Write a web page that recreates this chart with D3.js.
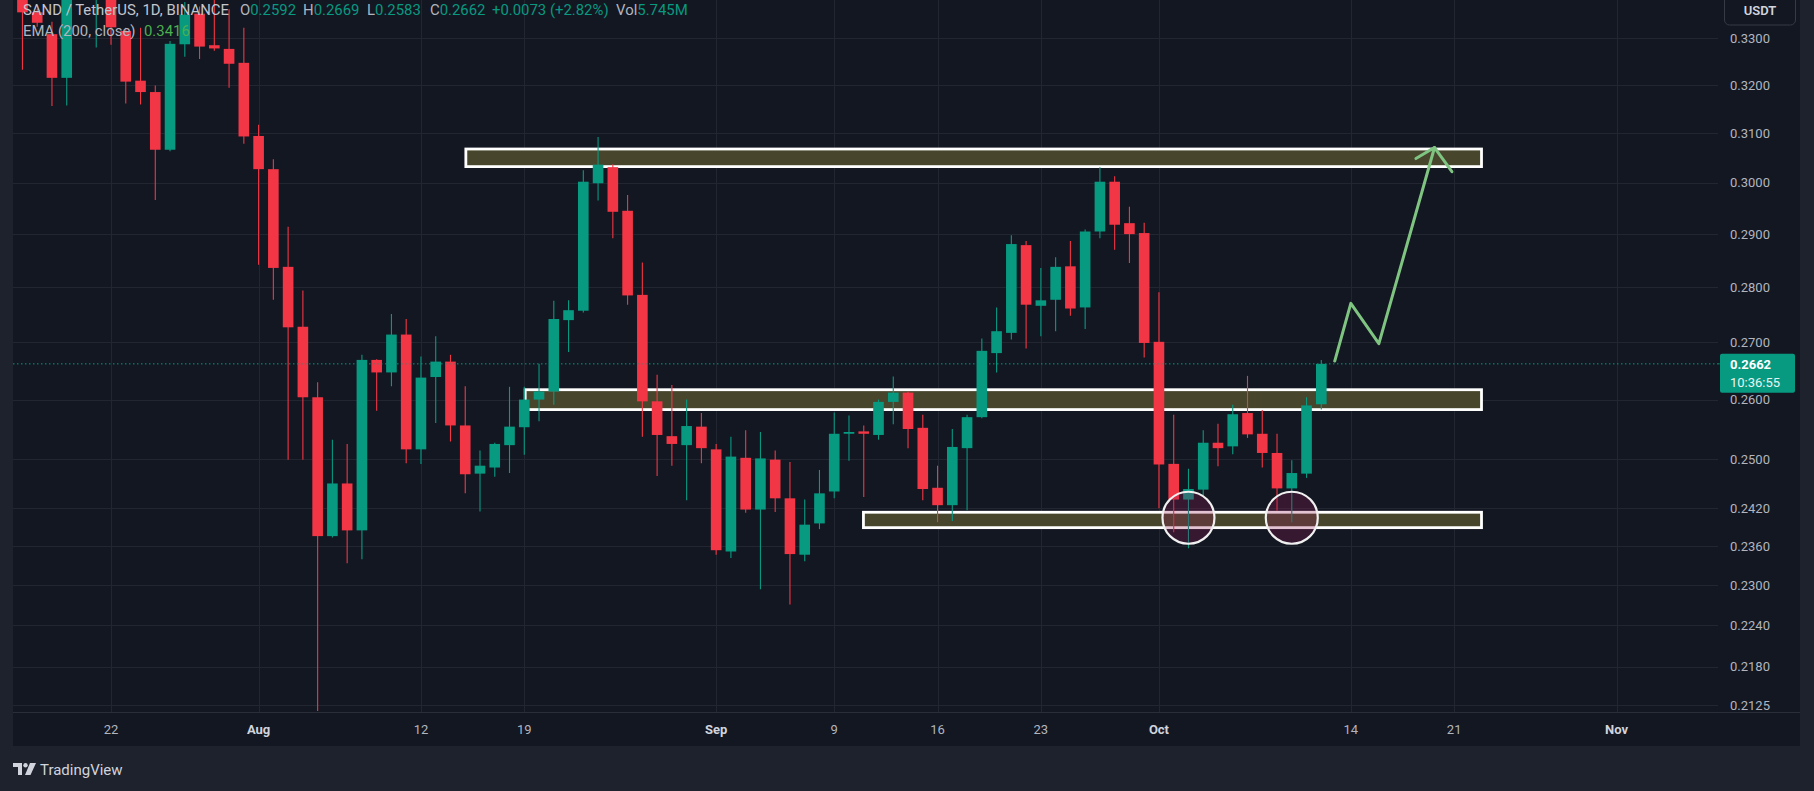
<!DOCTYPE html>
<html><head><meta charset="utf-8">
<script src="https://cdn.jsdelivr.net/npm/d3@7"></script>
<style>
html,body{margin:0;padding:0;background:#1e222d;overflow:hidden}
svg{display:block}
text{font-family:Roboto,"Noto Sans",sans-serif}
</style></head><body>
<svg id="c" width="1814" height="791"></svg>
<script>
// ---------- DATA ----------
const dates = ["2024-07-16","2024-07-17","2024-07-18","2024-07-19","2024-07-20","2024-07-21","2024-07-22","2024-07-23","2024-07-24","2024-07-25","2024-07-26","2024-07-27","2024-07-28","2024-07-29","2024-07-30","2024-07-31",
"2024-08-01","2024-08-02","2024-08-03","2024-08-04","2024-08-05","2024-08-06","2024-08-07","2024-08-08","2024-08-09","2024-08-10","2024-08-11","2024-08-12","2024-08-13","2024-08-14","2024-08-15","2024-08-16","2024-08-17","2024-08-18","2024-08-19","2024-08-20","2024-08-21","2024-08-22","2024-08-23","2024-08-24","2024-08-25","2024-08-26","2024-08-27","2024-08-28","2024-08-29","2024-08-30","2024-08-31",
"2024-09-01","2024-09-02","2024-09-03","2024-09-04","2024-09-05","2024-09-06","2024-09-07","2024-09-08","2024-09-09","2024-09-10","2024-09-11","2024-09-12","2024-09-13","2024-09-14","2024-09-15","2024-09-16","2024-09-17","2024-09-18","2024-09-19","2024-09-20","2024-09-21","2024-09-22","2024-09-23","2024-09-24","2024-09-25","2024-09-26","2024-09-27","2024-09-28","2024-09-29","2024-09-30",
"2024-10-01","2024-10-02","2024-10-03","2024-10-04","2024-10-05","2024-10-06","2024-10-07","2024-10-08","2024-10-09","2024-10-10","2024-10-11","2024-10-12"];
const open  = [.3450,.3357,.3309,.3215,.3420,.3470,.3490,.3316,.3209,.3185,.3066,.3287,.3354,.3285,.3277,.3247,
.3094,.3027,.2838,.2728,.2604,.2376,.2460,.2385,.2669,.2647,.2714,.2516,.2639,.2666,.2556,.2476,.2486,.2523,.2553,.2600,.2614,.2740,.2757,.2999,.3031,.2945,.2786,.2597,.2538,.2523,.2554,
.2516,.2352,.2502,.2418,.2499,.2436,.2347,.2396,.2447,.2542,.2546,.2540,.2596,.2612,.2552,.2453,.2425,.2518,.2570,.2681,.2717,.2879,.2766,.2777,.2839,.2763,.2905,.3002,.2921,.2902,
.2701,.2492,.2434,.2450,.2527,.2521,.2577,.2542,.2510,.2452,.2476,.2592];
const high  = [.3500,.3365,.3336,.3450,.3520,.3510,.3530,.3323,.3323,.3199,.3294,.3380,.3370,.3400,.3364,.3323,
.3117,.3047,.2914,.2794,.2630,.2532,.2525,.2678,.2670,.2751,.2742,.2675,.2711,.2678,.2623,.2514,.2527,.2622,.2622,.2662,.2775,.2776,.3025,.3092,.3037,.2976,.2846,.2643,.2625,.2600,.2577,
.2525,.2537,.2548,.2545,.2514,.2495,.2434,.2482,.2578,.2573,.2556,.2600,.2640,.2614,.2574,.2489,.2550,.2574,.2707,.2763,.2898,.2887,.2836,.2856,.2887,.2909,.3031,.3013,.2953,.2922,
.2791,.2574,.2484,.2548,.2559,.2591,.2641,.2582,.2542,.2498,.2604,.2669];
const low   = [.3232,.3325,.3156,.3157,.3395,.3280,.3286,.3161,.3159,.2966,.3063,.3260,.3255,.3273,.3194,.3078,
.2842,.2777,.2499,.2499,.2117,.2374,.2334,.2340,.2581,.2623,.2493,.2492,.2560,.2529,.2444,.2415,.2471,.2477,.2507,.2563,.2591,.2683,.2754,.2965,.2892,.2768,.2537,.2472,.2489,.2433,.2493,
.2347,.2342,.2413,.2294,.2414,.2271,.2337,.2387,.2436,.2497,.2438,.2532,.2558,.2518,.2433,.2398,.2400,.2417,.2568,.2647,.2705,.2689,.2711,.2720,.2748,.2724,.2892,.2870,.2845,.2673,
.2420,.2382,.2357,.2441,.2488,.2508,.2535,.2486,.2416,.2398,.2469,.2583];
const close = [.3357,.3334,.3215,.3420,.3470,.3490,.3324,.3207,.3185,.3066,.3288,.3352,.3282,.3278,.3245,.3093,
.3027,.2836,.2727,.2604,.2376,.2460,.2385,.2669,.2647,.2714,.2516,.2638,.2666,.2556,.2475,.2489,.2525,.2554,.2600,.2614,.2742,.2758,.3002,.3036,.2943,.2785,.2597,.2540,.2525,.2555,.2518,
.2354,.2504,.2418,.2501,.2436,.2348,.2394,.2444,.2542,.2545,.2542,.2596,.2612,.2550,.2451,.2425,.2520,.2570,.2685,.2720,.2881,.2768,.2776,.2838,.2761,.2905,.3002,.2918,.2900,.2699,
.2491,.2434,.2451,.2527,.2518,.2575,.2541,.2510,.2452,.2477,.2590,.2662];

const priceTicks = [0.33,0.32,0.31,0.30,0.29,0.28,0.27,0.26,0.25,0.242,0.236,0.23,0.224,0.218,0.2125];
const timeTicks  = ["2024-07-22","2024-08-01","2024-08-12","2024-08-19","2024-09-01","2024-09-09","2024-09-16","2024-09-23","2024-10-01","2024-10-14","2024-10-21","2024-11-01"];
const timeLabels = ["22","Aug","12","19","Sep","9","16","23","Oct","14","21","Nov"];
const monthLabels = ["Aug","Sep","Oct","Nov"];

// annotation zones: [startTime, endTime, upperPrice, lowerPrice]
const zoneStarts = ["2024-08-15T01:00Z","2024-08-19T01:30Z","2024-09-10T23:30Z"];
const zoneEnd    = "2024-10-22T20:30Z";
const zoneUpper  = [0.30675, 0.26170, 0.24137];
const zoneLower  = [0.30321, 0.25829, 0.23893];
// double bottom circles
const circleDates  = ["2024-10-03","2024-10-10"];
const circlePrices = [0.2405, 0.2405];
// projected path (time, price)
const arrowTimes  = ["2024-10-12T21:50Z","2024-10-14T00:00Z","2024-10-15T21:36Z","2024-10-19T16:05Z"];
const arrowPrices = [0.2667, 0.27705, 0.26977, 0.30705];
const headTimes   = ["2024-10-18T09:50Z","2024-10-19T16:05Z","2024-10-20T20:24Z"];
const headPrices  = [0.30482, 0.30705, 0.3022];

const lastPrice = 0.2662;
const header1 = [["SAND / TetherUS, 1D, BINANCE","#c3c6ce",23],["O","#b2b5be",240],["0.2592","#089981",null],["H","#b2b5be",303],["0.2669","#089981",null],["L","#b2b5be",367],["0.2583","#089981",null],["C","#b2b5be",430],["0.2662","#089981",null],["+0.0073 (+2.82%)","#089981",492],["Vol","#b2b5be",616],["5.745M","#089981",null]];

// ---------- LAYOUT ----------
const paneL=13, paneR=1718, paneB=712, axisR=1800, timeB=746;
const svg = d3.select("#c");
const x = d3.scaleUtc().domain([new Date("2024-07-22T00:00Z"), new Date("2024-11-01T00:00Z")]).range([111, 1616.5]);
const y = d3.scaleLog().domain([0.2125, 0.33]).range([705.3, 38.3]);
const dayW = x(new Date("2024-07-23T00:00Z")) - x(new Date("2024-07-22T00:00Z"));
const bodyW = dayW*0.72;
const UP="#089981", DN="#f23645";
const T = s => new Date(s.length===10 ? s+"T00:00Z" : s);

// backgrounds
svg.append("rect").attr("width",1814).attr("height",791).attr("fill","#1e222d");
svg.append("rect").attr("x",paneL).attr("y",0).attr("width",axisR-paneL).attr("height",timeB).attr("fill","#131722");
svg.append("line").attr("x1",paneL).attr("x2",axisR).attr("y1",paneB+0.5).attr("y2",paneB+0.5).attr("stroke","#2a2e39").attr("stroke-width",1);

const defs = svg.append("defs");
defs.append("clipPath").attr("id","pane").append("rect").attr("x",paneL).attr("y",0).attr("width",paneR-paneL).attr("height",paneB);

const pane = svg.append("g").attr("clip-path","url(#pane)");
// grid
pane.selectAll("line.h").data(priceTicks).join("line")
  .attr("x1",paneL).attr("x2",paneR).attr("y1",d=>Math.round(y(d))+0.5).attr("y2",d=>Math.round(y(d))+0.5)
  .attr("stroke","#222631").attr("stroke-width",1);
pane.selectAll("line.v").data(timeTicks).join("line")
  .attr("x1",d=>Math.round(x(T(d)))+0.5).attr("x2",d=>Math.round(x(T(d)))+0.5).attr("y1",0).attr("y2",paneB)
  .attr("stroke","#222631").attr("stroke-width",1);

// zones (behind candles)
const zg = pane.append("g");
zoneStarts.forEach((s,i)=>{
  const x0=x(T(s)), x1=x(T(zoneEnd)), y0=y(zoneUpper[i]), y1=y(zoneLower[i]);
  zg.append("rect").attr("x",x0).attr("y",y0).attr("width",x1-x0).attr("height",y1-y0)
    .attr("fill","#47462d").attr("stroke","#ffffff").attr("stroke-width",2.8);
});

// candles
const candles = dates.map((d,i)=>({t:T(d),o:open[i],h:high[i],l:low[i],c:close[i]}));
const cg = pane.append("g");
cg.selectAll("line").data(candles).join("line")
  .attr("x1",d=>x(d.t)).attr("x2",d=>x(d.t)).attr("y1",d=>y(d.h)).attr("y2",d=>y(d.l))
  .attr("stroke",d=>d.c>=d.o?UP:DN).attr("stroke-width",1.1);
cg.selectAll("rect").data(candles).join("rect")
  .attr("x",d=>x(d.t)-bodyW/2).attr("width",bodyW)
  .attr("y",d=>y(Math.max(d.o,d.c))).attr("height",d=>Math.max(1.2,Math.abs(y(d.o)-y(d.c))))
  .attr("fill",d=>d.c>=d.o?UP:DN);

// circles
circleDates.forEach((d,i)=>{
  pane.append("circle").attr("cx",x(T(d))).attr("cy",y(circlePrices[i])).attr("r",26)
    .attr("fill","rgba(150,30,90,0.27)").attr("stroke","#f0f0f0").attr("stroke-width",2.2);
});

// projected arrow
const line = d3.line().x(d=>x(T(d[0]))).y(d=>y(d[1]));
pane.append("path").attr("d",line(arrowTimes.map((t,i)=>[t,arrowPrices[i]])))
  .attr("fill","none").attr("stroke","#7fc481").attr("stroke-width",3).attr("stroke-linecap","round").attr("stroke-linejoin","round");
pane.append("path").attr("d",line(headTimes.map((t,i)=>[t,headPrices[i]])))
  .attr("fill","none").attr("stroke","#7fc481").attr("stroke-width",3).attr("stroke-linecap","round").attr("stroke-linejoin","round");

// last price dotted line
pane.append("line").attr("x1",paneL).attr("x2",paneR).attr("y1",y(lastPrice)).attr("y2",y(lastPrice))
  .attr("stroke",UP).attr("stroke-width",1).attr("stroke-dasharray","1.5 2.5");
svg.append("line").attr("x1",paneR).attr("x2",1722).attr("y1",y(lastPrice)).attr("y2",y(lastPrice))
  .attr("stroke",UP).attr("stroke-width",1).attr("stroke-dasharray","1.5 2.5");

// header legend
const h1 = svg.append("text").attr("x",23).attr("y",14.5).attr("font-size",14.9);
header1.forEach(([s,c,xx])=>{
  const ts=h1.append("tspan").text(s).attr("fill",c);
  if(xx!==null) ts.attr("x",xx);
});
const h2 = svg.append("text").attr("x",23).attr("y",35.5).attr("font-size",14.9);
h2.append("tspan").text("EMA (200, close)").attr("fill","#b2b5be");
h2.append("tspan").attr("x",144).text("0.3416").attr("fill","#4caf50");

// price axis labels
svg.selectAll("text.p").data(priceTicks).join("text")
  .attr("x",1730).attr("y",d=>y(d)+4.6).attr("font-size",13).attr("fill","#b2b5be")
  .text(d=>d3.format(".4f")(d));

// last price label
const ly = y(lastPrice);
svg.append("rect").attr("x",1720).attr("y",ly-10).attr("width",75).attr("height",39).attr("rx",2).attr("fill",UP);
svg.append("text").attr("x",1730).attr("y",ly+5).attr("font-size",13).attr("font-weight",700).attr("fill","#ffffff").text(d3.format(".4f")(lastPrice));
svg.append("text").attr("x",1730).attr("y",ly+23).attr("font-size",13).attr("fill","#e6f5f1").text("10:36:55");

// USDT button
svg.append("rect").attr("x",1724.5).attr("y",-6).attr("width",71).attr("height",31).attr("rx",5)
  .attr("fill","#131722").attr("stroke","#363a45");
svg.append("text").attr("x",1760).attr("y",15).attr("text-anchor","middle").attr("font-size",13).attr("font-weight",600).attr("fill","#d1d4dc").text("USDT");

// time axis labels
svg.selectAll("text.t").data(timeTicks).join("text")
  .attr("x",d=>x(T(d))).attr("y",734).attr("text-anchor","middle").attr("font-size",13)
  .attr("font-weight",(d,i)=>monthLabels.includes(timeLabels[i])?700:400)
  .attr("fill",(d,i)=>monthLabels.includes(timeLabels[i])?"#d1d4dc":"#b2b5be")
  .text((d,i)=>timeLabels[i]);

// TradingView logo
const lg = svg.append("g").attr("transform","translate(13,763)").attr("fill","#d1d4dc");
lg.append("path").attr("d","M0 0 H9 V12 H5 V4 H0 Z");
lg.append("circle").attr("cx",12.5).attr("cy",2.2).attr("r",2.2);
lg.append("path").attr("d","M17 0 H23 L17.5 12 H12 Z");
svg.append("text").attr("x",40).attr("y",775).attr("font-size",15).attr("fill","#d1d4dc").text("TradingView");
</script>
</body></html>
